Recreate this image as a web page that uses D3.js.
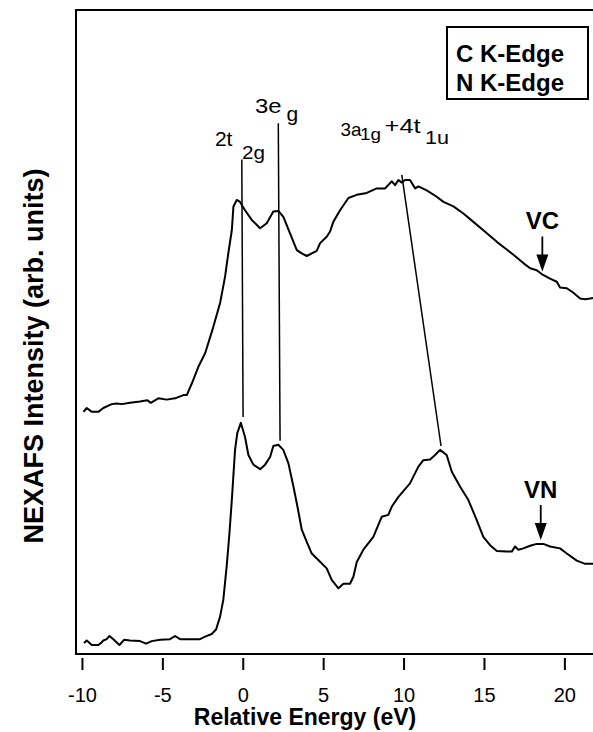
<!DOCTYPE html>
<html>
<head>
<meta charset="utf-8">
<script src="https://cdn.jsdelivr.net/npm/d3@7"></script>
<style>
  body { margin: 0; background: #fff; }
  text { font-family: "Liberation Sans", Arial, Helvetica, sans-serif; fill: #000; }
</style>
</head>
<body>
<div id="chart"></div>
<script>
// VC (carbon K-edge) spectrum
var vcEnergy = [-9.91, -9.70, -9.39, -8.98, -8.67, -8.15, -7.84, -7.52, -7.01, -6.39, -5.93, -5.72, -5.25, -4.73, -4.21, -3.69, -3.48,
  -3.17, -2.76, -2.34, -1.83, -1.41, -1.10, -0.90, -0.68, -0.58, -0.37, -0.17, 0.14, 0.56, 1.08, 1.49, 1.90, 2.21, 2.52, 2.94,
  3.36, 3.67, 3.98, 4.29, 4.60, 4.81, 5.22, 5.43, 5.63, 6.05, 6.57, 7.09, 7.71, 8.33, 8.85, 9.27, 9.47, 9.68, 9.89, 10.09, 10.40,
  10.72, 10.92, 11.44, 12.06, 12.48, 13.10, 13.72, 14.34, 14.96, 15.80, 16.21, 16.83, 17.45, 17.87, 18.28, 18.59, 19.11, 19.53,
  19.73, 20.15, 20.56, 20.98, 21.29, 21.60, 21.78];
var vcIntensity = [37.6, 38.2, 37.6, 37.6, 38.2, 38.8, 38.9, 38.8, 39.0, 39.2, 39.4, 39.0, 39.7, 39.5, 39.7, 40.2, 40.2,
  42.0, 44.6, 46.7, 50.8, 54.5, 58.6, 62.2, 65.8, 69.5, 70.5, 70.2, 68.9, 67.4, 66.1, 66.9, 68.7, 68.8, 67.9, 65.3,
  62.7, 62.2, 61.8, 62.2, 62.6, 63.8, 64.8, 65.6, 67.1, 68.9, 70.8, 71.3, 71.6, 72.3, 72.3, 73.4, 72.8, 73.6, 73.2, 73.6, 73.6,
  72.3, 72.6, 72.0, 71.0, 70.2, 69.5, 68.4, 67.1, 65.8, 64.0, 63.2, 62.0, 60.7, 59.9, 59.6, 59.0, 58.3, 57.8,
  56.9, 56.8, 56.1, 55.2, 55.1, 55.2, 55.3];

// VN (nitrogen K-edge) spectrum
var vnEnergy = [-9.87, -9.70, -9.39, -8.98, -8.77, -8.67, -8.46, -8.29, -8.05, -7.67, -7.38, -7.01, -6.39, -6.01, -5.66, -5.14,
  -4.52, -4.21, -3.90, -3.28, -2.66, -2.34, -1.93, -1.66, -1.41, -1.21, -1.00, -0.83, -0.68, -0.48, -0.34, -0.12, 0.14, 0.35,
  0.66, 1.08, 1.39, 1.70, 1.90, 2.21, 2.52, 2.84, 3.15, 3.40, 3.67, 3.98, 4.29, 4.70, 5.22, 5.53, 5.95, 6.26, 6.67, 6.88, 7.09,
  7.50, 8.12, 8.64, 9.05, 9.27, 9.68, 10.40, 10.92, 11.23, 11.65, 11.96, 12.27, 12.68, 13.00, 13.51, 14.03, 14.55, 14.96, 15.38,
  15.80, 16.42, 16.73, 16.93, 17.14, 17.45, 17.87, 18.28, 18.69, 19.11, 19.73, 20.15, 20.77, 21.29, 21.78];
var vnIntensity = [1.7, 2.1, 1.4, 1.4, 1.8, 2.1, 2.3, 2.8, 2.3, 1.4, 2.2, 2.1, 2.0, 1.6, 2.0, 2.2,
  2.3, 2.8, 2.3, 2.3, 2.3, 2.7, 3.1, 3.8, 5.8, 8.4, 13.6, 18.7, 23.9, 31.7, 34.3, 35.9, 33.7, 30.9,
  29.4, 28.7, 29.4, 30.6, 32.3, 32.5, 31.7, 29.6, 26.0, 22.9, 19.3, 17.4, 15.6, 14.6, 13.3, 11.5, 10.2, 10.9, 10.9, 12.0, 14.3,
  16.2, 18.2, 21.3, 21.6, 22.9, 24.4, 26.5, 29.1, 30.1, 30.2, 30.9, 31.7, 30.9, 28.3, 26.0, 23.9, 20.8, 18.2, 16.9,
  16.0, 15.9, 15.9, 16.7, 16.2, 16.4, 16.8, 17.1, 17.1, 16.7, 16.4, 15.6, 14.5, 14.0, 14.0];

var xTicks = [-10, -5, 0, 5, 10, 15, 20];
var legendLines = ["C K-Edge", "N K-Edge"];

// assignment lines: [energy, intensity] at top end and bottom end
var peakLines = [
  [[-0.06, 76.8], [0.02, 36.8]],
  [[2.21, 82.4], [2.32, 33.1]],
  [[9.89, 74.4], [12.33, 32.3]]
];
// assignment label pieces: text, energy, intensity at baseline
var peakLabels = [
  ["2t", -1.73, 78.9], ["2g", -0.05, 76.9],
  ["3e", 0.76, 84.0], ["g", 2.72, 82.8],
  ["3a", 6.08, 80.4], ["1g", 7.29, 79.8], ["+4t", 8.82, 80.9], ["1u", 11.34, 79.2]
];
// font size and drawn width of each piece (the scan's lettering runs wide)
var peakLabelSize = [21, 18, 21, 21, 19, 17, 21, 18];
var peakLabelWidth = [null, 23, 26.5, null, 21, 21, 36, 24];

// sample markers: name, energy, intensity at arrow tip
var markers = [["VC", 18.63, 59.4], ["VN", 18.53, 17.7]];

var W = 593, H = 732;
var padLeft = 76, padTop = 10, axisY = 654;

var svg = d3.select("#chart").append("svg")
  .attr("width", W).attr("height", H);

var x = d3.scaleLinear().domain([-10.37, 21.78]).range([padLeft, W]);
var y = d3.scaleLinear().domain([0, 100]).range([axisY, padTop]);

// frame (right side runs off the picture)
svg.append("rect")
  .attr("x", padLeft).attr("y", padTop)
  .attr("width", W + 10 - padLeft).attr("height", axisY - padTop)
  .attr("fill", "none").attr("stroke", "#000").attr("stroke-width", 2);

// x axis, ticks set slightly below the frame
var xAxis = d3.axisBottom(x).tickValues(xTicks).tickSize(12).tickPadding(17.5)
  .tickFormat(function (d) { return String(d); });
var gx = svg.append("g").attr("transform", "translate(0," + (axisY + 4) + ")").call(xAxis);
gx.select(".domain").remove();
gx.selectAll(".tick line").attr("stroke", "#000").attr("stroke-width", 2);
gx.selectAll(".tick text")
  .style("font-family", '"Liberation Sans", Arial, sans-serif')
  .style("font-size", "20px").attr("fill", "#000");

svg.append("text")
  .attr("x", 305).attr("y", 725)
  .attr("text-anchor", "middle")
  .style("font-size", "23px").style("font-weight", "bold")
  .text("Relative Energy (eV)");

svg.append("text")
  .attr("transform", "translate(43,356) rotate(-90)")
  .attr("text-anchor", "middle")
  .style("font-size", "27px").style("font-weight", "bold")
  .text("NEXAFS Intensity (arb. units)");

// spectra
var line = d3.line()
  .x(function (d) { return x(d[0]); })
  .y(function (d) { return y(d[1]); });

[[vcEnergy, vcIntensity], [vnEnergy, vnIntensity]].forEach(function (s) {
  var pts = s[0].map(function (e, i) { return [e, s[1][i]]; });
  svg.append("path")
    .datum(pts)
    .attr("d", line)
    .attr("fill", "none")
    .attr("stroke", "#000")
    .attr("stroke-width", 2)
    .attr("stroke-linejoin", "round");
});

// peak assignment lines
svg.selectAll(".peak")
  .data(peakLines)
  .enter().append("line")
  .attr("x1", function (d) { return x(d[0][0]); })
  .attr("y1", function (d) { return y(d[0][1]); })
  .attr("x2", function (d) { return x(d[1][0]); })
  .attr("y2", function (d) { return y(d[1][1]); })
  .attr("stroke", "#000").attr("stroke-width", 1.5);

svg.selectAll(".plabel")
  .data(peakLabels)
  .enter().append("text")
  .attr("x", function (d) { return x(d[1]); })
  .attr("y", function (d) { return y(d[2]); })
  .style("font-size", function (d, i) { return peakLabelSize[i] + "px"; })
  .each(function (d, i) {
    if (peakLabelWidth[i]) {
      d3.select(this).attr("textLength", peakLabelWidth[i]).attr("lengthAdjust", "spacingAndGlyphs");
    }
  })
  .text(function (d) { return d[0]; });

// VC / VN arrows
var mk = svg.selectAll(".marker")
  .data(markers)
  .enter().append("g")
  .attr("transform", function (d) { return "translate(" + x(d[1]) + "," + y(d[2]) + ")"; });
mk.append("line")
  .attr("x1", 0).attr("x2", 0).attr("y1", -35).attr("y2", -12)
  .attr("stroke", "#000").attr("stroke-width", 1.8);
mk.append("path")
  .attr("d", "M-6,-17L6,-17L0,0Z")
  .attr("fill", "#000");
mk.append("text")
  .attr("y", -42)
  .attr("text-anchor", "middle")
  .style("font-size", "24px").style("font-weight", "bold")
  .text(function (d) { return d[0]; });

// legend box
var lg = svg.append("g").attr("transform", "translate(447,27)");
lg.append("rect")
  .attr("width", 141).attr("height", 72)
  .attr("fill", "#fff").attr("stroke", "#000").attr("stroke-width", 2);
lg.selectAll("text")
  .data(legendLines)
  .enter().append("text")
  .attr("x", 9)
  .attr("y", function (d, i) { return 35 + i * 28.5; })
  .style("font-size", "24px").style("font-weight", "bold")
  .text(function (d) { return d; });
</script>
</body>
</html>
